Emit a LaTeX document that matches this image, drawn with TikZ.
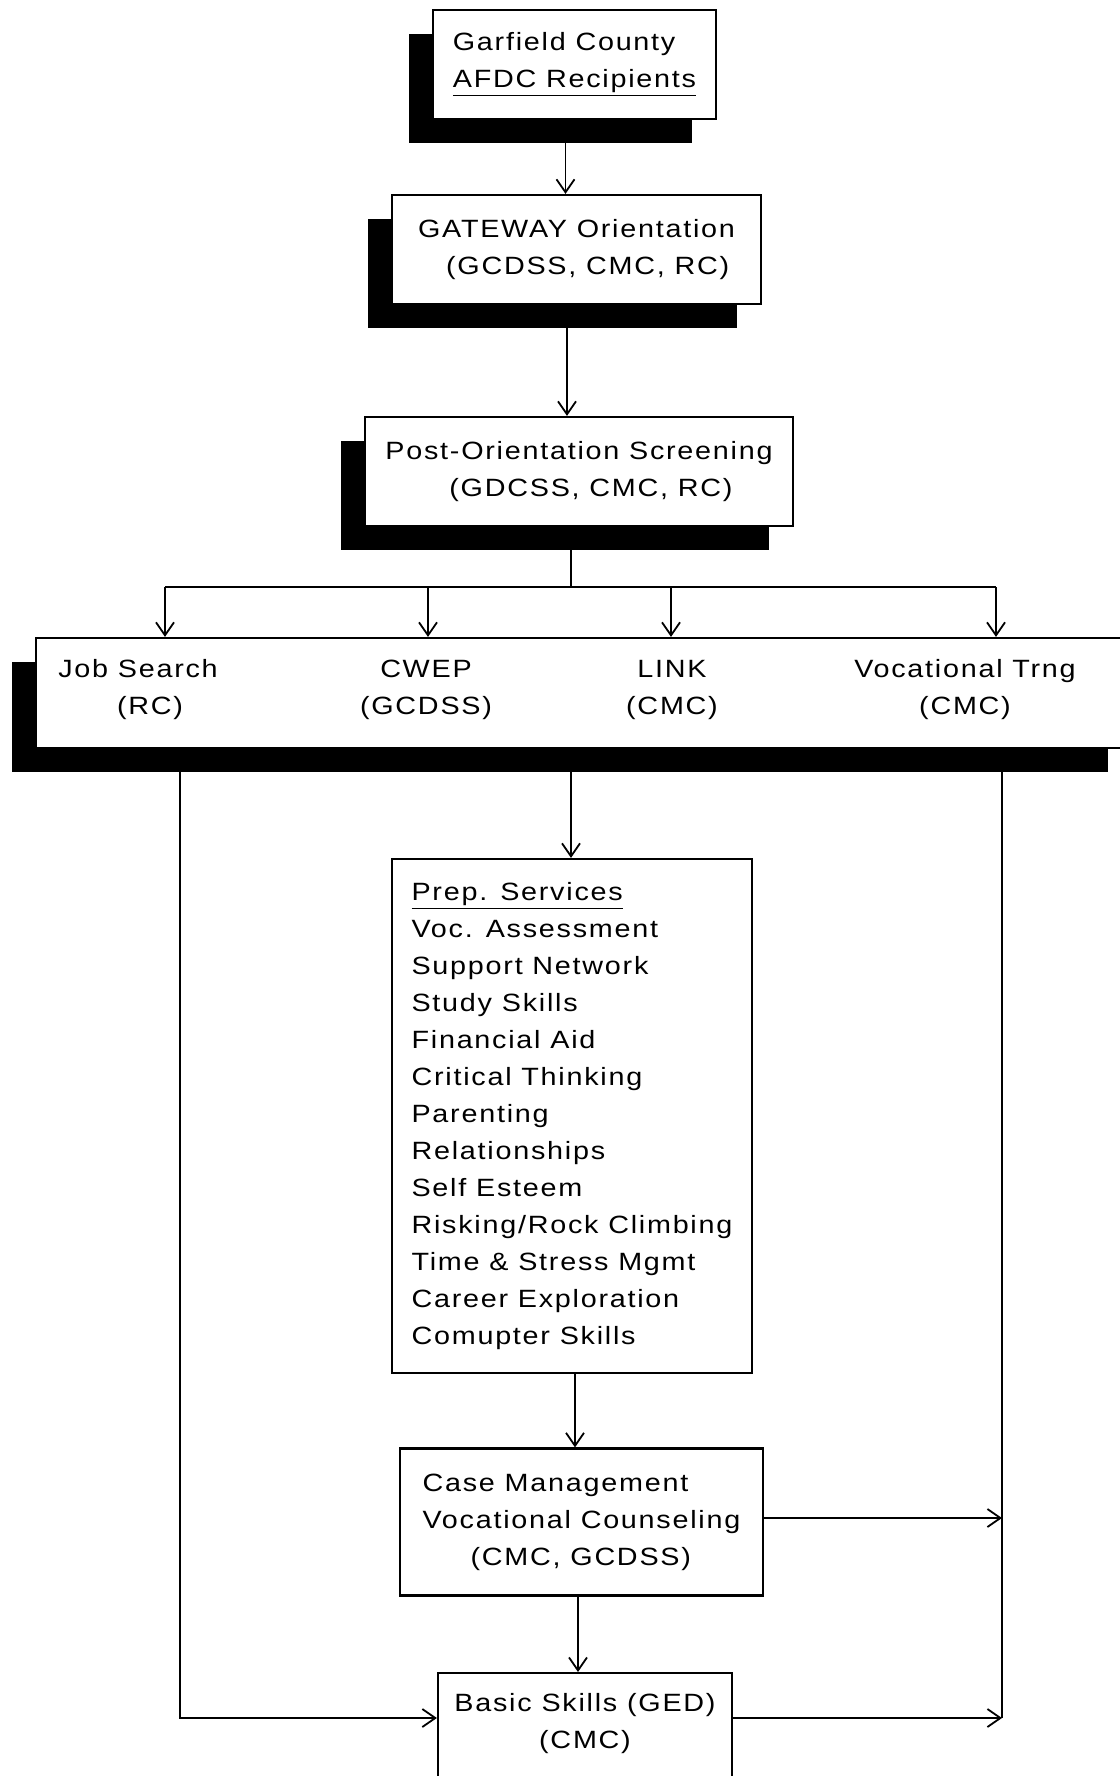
\documentclass[tikz,border=0pt]{standalone}
\usepackage{fontspec}
\setmainfont[LetterSpace=7,FakeStretch=1.15]{Liberation Sans}
\usetikzlibrary{arrows.meta,calc,shadows}
\begin{document}
\begin{tikzpicture}[x=0.5pt,y=-0.5pt,
  txt/.style={font=\fontsize{12.5}{18.5}\selectfont, inner sep=0pt, align=center},
  box/.style={draw, line width=1.1pt, fill=white, inner sep=0pt,
              font=\fontsize{12.5}{18.5}\selectfont},
  shbox/.style={box, drop shadow={shadow xshift=-12pt, shadow yshift=-12pt, fill=black, opacity=1}},
  arr/.style={line width=0.9pt, -{Straight Barb[length=6.5pt,width=9pt]}},
  conn/.style={line width=0.9pt}]
\useasboundingbox (0,0) rectangle (1119,1776);

% boxes
\node[shbox, minimum width=141.5pt, minimum height=54.5pt, align=left] (gar) at (574.5,64.5)
  {Garfield County\\\underline{AFDC Recipients}};
\node[shbox, minimum width=184.5pt, minimum height=54.5pt, align=left] (gate) at (576.5,249.5)
  {GATEWAY Orientation\\\hspace*{14pt}(GCDSS, CMC, RC)};
\node[shbox, minimum width=214pt, minimum height=54.5pt, align=left] (post) at (579,471.5)
  {Post-Orientation Screening\\\hspace*{32pt}(GDCSS, CMC, RC)};
\node[shbox, minimum width=548pt, minimum height=55pt] (row) at (584,693) {};
\node[txt] (job) at (138,690) {Job Search\\\hspace*{12pt}(RC)};
\node[txt] (cwep) at (426,690) {CWEP\\(GCDSS)};
\node[txt] (link) at (672,690) {LINK\\(CMC)};
\node[txt] (voc) at (965,690) {Vocational Trng\\(CMC)};

\node[box, minimum width=180pt, minimum height=257pt, align=left] (prep) at (572,1116)
  {\underline{Prep. Services}\\Voc. Assessment\\Support Network\\Study Skills\\Financial Aid\\Critical Thinking\\Parenting\\Relationships\\Self Esteem\\Risking/Rock Climbing\\Time \& Stress Mgmt\\Career Exploration\\Comupter Skills};
\node[box, minimum width=181.5pt, minimum height=73.5pt, align=left] (case) at (581.5,1522)
  {Case Management\\Vocational Counseling\\\hspace*{24pt}(CMC, GCDSS)};
\node[box, minimum width=147pt, minimum height=70pt, anchor=north] (basic) at (585,1672) {};
\node[txt] (basict) at (585,1724) {Basic Skills (GED)\\(CMC)};

% coordinates
\coordinate (bus) at (571,587);
\coordinate (busL) at (165,587);
\coordinate (busC) at (428,587);
\coordinate (busK) at (671,587);
\coordinate (busR) at (996,587);
\coordinate (lTop) at (180,748);
\coordinate (lBot) at (180,1718);
\coordinate (rTop) at (1002,748);
\coordinate (rMid) at (1002,1518);
\coordinate (rBot) at (1002,1718);

% connectors
\draw[arr] ($(gar.south)+(-9,0)$) -- ($(gate.north)+(-11,0)$);
\draw[arr] ($(gate.south)+(-9.5,0)$) -- ($(post.north)+(-12,0)$);
\draw[conn] ($(post.south)+(-8,0)$) -- (bus);
\draw[conn] (busL) -- (busR);
\draw[arr] (busL) -- (busL |- row.north);
\draw[arr] (busC) -- (busC |- row.north);
\draw[arr] (busK) -- (busK |- row.north);
\draw[arr] (busR) -- (busR |- row.north);
\draw[arr] ($(row.south)+(-13,0)$) -- ($(prep.north)+(-1,0)$);
\draw[arr] ($(prep.south)+(3,0)$) -- ($(case.north)+(-6.5,0)$);
\draw[arr] ($(case.south)+(-3.5,0)$) -- ($(basic.north)+(-7,0)$);
\draw[arr] (case.east |- rMid) -- (rMid);
\draw[conn] (rTop) -- (rBot);
\draw[arr] (basic.east |- rBot) -- (rBot);
\draw[arr] (lTop) -- (lBot) -- (lBot -| basic.west);
\end{tikzpicture}
\end{document}
